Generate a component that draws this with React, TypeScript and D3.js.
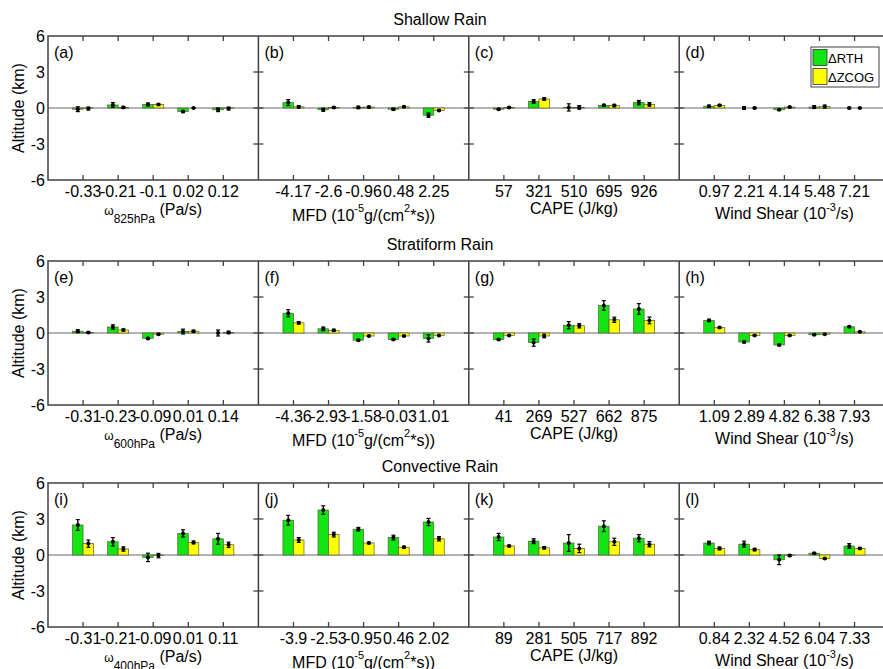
import React from 'react';
import * as d3 from 'd3';

// rows: shallow, stratiform, convective ; columns: omega, MFD, CAPE, wind shear
const rowTitles = ['Shallow Rain', 'Stratiform Rain', 'Convective Rain'];
const omegaLevels = ['825', '600', '400'];
const panelLetters = ['a', 'b', 'c', 'd', 'e', 'f', 'g', 'h', 'i', 'j', 'k', 'l'];
const yTicks = [-6, -3, 0, 3, 6];

const categories = [
  ['-0.33', '-0.21', '-0.1', '0.02', '0.12'],
  ['-4.17', '-2.6', '-0.96', '0.48', '2.25'],
  ['57', '321', '510', '695', '926'],
  ['0.97', '2.21', '4.14', '5.48', '7.21'],
  ['-0.31', '-0.23', '-0.09', '0.01', '0.14'],
  ['-4.36', '-2.93', '-1.58', '-0.03', '1.01'],
  ['41', '269', '527', '662', '875'],
  ['1.09', '2.89', '4.82', '6.38', '7.93'],
  ['-0.31', '-0.21', '-0.09', '0.01', '0.11'],
  ['-3.9', '-2.53', '-0.95', '0.46', '2.02'],
  ['89', '281', '505', '717', '892'],
  ['0.84', '2.32', '4.52', '6.04', '7.33'],
];

const rthValues = [
  [-0.1, 0.25, 0.3, -0.3, -0.15],
  [0.45, -0.15, 0.05, -0.1, -0.6],
  [-0.1, 0.55, 0.05, 0.22, 0.45],
  [0.15, 0.0, -0.15, 0.08, 0.0],
  [0.15, 0.5, -0.45, 0.12, 0.0],
  [1.65, 0.35, -0.6, -0.55, -0.45],
  [-0.55, -0.8, 0.65, 2.3, 2.0],
  [1.05, -0.75, -1.0, -0.15, 0.52],
  [2.5, 1.1, -0.2, 1.8, 1.35],
  [2.9, 3.75, 2.15, 1.45, 2.75],
  [1.5, 1.15, 1.0, 2.4, 1.4],
  [1.0, 0.9, -0.4, 0.15, 0.75],
];

const rthErrors = [
  [0.2, 0.2, 0.12, 0.08, 0.15],
  [0.25, 0.12, 0.1, 0.08, 0.18],
  [0.05, 0.15, 0.3, 0.08, 0.18],
  [0.08, 0.12, 0.05, 0.12, 0.06],
  [0.12, 0.18, 0.08, 0.2, 0.25],
  [0.3, 0.15, 0.06, 0.06, 0.3],
  [0.05, 0.3, 0.3, 0.4, 0.45],
  [0.1, 0.06, 0.06, 0.04, 0.06],
  [0.45, 0.35, 0.35, 0.3, 0.45],
  [0.4, 0.35, 0.15, 0.2, 0.3],
  [0.3, 0.2, 0.7, 0.45, 0.3],
  [0.15, 0.25, 0.4, 0.05, 0.2],
];

const zcogValues = [
  [-0.05, 0.05, 0.3, 0.0, -0.05],
  [0.1, 0.05, 0.08, 0.1, -0.2],
  [0.05, 0.75, 0.05, 0.2, 0.3],
  [0.22, 0.0, 0.08, 0.12, 0.0],
  [0.05, 0.25, -0.1, 0.15, 0.05],
  [0.85, 0.22, -0.25, -0.25, -0.2],
  [-0.2, -0.25, 0.6, 1.1, 1.05],
  [0.45, -0.2, -0.2, -0.1, 0.1],
  [0.95, 0.5, -0.05, 1.05, 0.85],
  [1.25, 1.7, 1.0, 0.65, 1.35],
  [0.75, 0.6, 0.55, 1.1, 0.9],
  [0.55, 0.45, -0.05, -0.3, 0.55],
];

const zcogErrors = [
  [0.12, 0.08, 0.05, 0.03, 0.12],
  [0.1, 0.06, 0.06, 0.05, 0.06],
  [0.04, 0.1, 0.15, 0.1, 0.15],
  [0.06, 0.06, 0.04, 0.12, 0.04],
  [0.06, 0.08, 0.04, 0.08, 0.1],
  [0.1, 0.08, 0.05, 0.05, 0.05],
  [0.05, 0.15, 0.18, 0.22, 0.28],
  [0.06, 0.05, 0.05, 0.04, 0.03],
  [0.3, 0.18, 0.18, 0.12, 0.22],
  [0.2, 0.2, 0.06, 0.08, 0.18],
  [0.06, 0.1, 0.35, 0.3, 0.22],
  [0.12, 0.1, 0.08, 0.05, 0.08],
];

const W = 883;
const H = 669;
const left = 48;
const panelW = 210.4;
const panelH = 144;
const rowTops = [36, 261, 483];
const green = '#12e612';
const yellow = '#ffff00';
const frame = '#404040';
const font = '"Liberation Sans", Arial, sans-serif';
const fs = 16;

function AxisTitle({ col, row, cx, y }: { col: number; row: number; cx: number; y: number }) {
  if (col === 0) {
    return (
      <text x={cx} y={y + 35} textAnchor="middle" fontSize={fs}>
        <tspan fontSize={12}>ω</tspan>
        <tspan fontSize={12} dy={8}>{omegaLevels[row]}hPa</tspan>
        <tspan dy={-8}> (Pa/s)</tspan>
      </text>
    );
  }
  if (col === 1) {
    return (
      <text x={cx} y={y + 41} textAnchor="middle" fontSize={fs}>
        MFD (10<tspan fontSize={11} dy={-9}>-5</tspan>
        <tspan dy={9}>g/(cm</tspan>
        <tspan fontSize={11} dy={-9}>2</tspan>
        <tspan dy={9}>*s))</tspan>
      </text>
    );
  }
  if (col === 2) {
    return (
      <text x={cx} y={y + 34} textAnchor="middle" fontSize={fs}>
        CAPE (J/kg)
      </text>
    );
  }
  return (
    <text x={cx} y={y + 39} textAnchor="middle" fontSize={fs}>
      Wind Shear (10<tspan fontSize={11} dy={-8}>-3</tspan>
      <tspan dy={8}>/s)</tspan>
    </text>
  );
}

function Panel({ idx }: { idx: number }) {
  const row = Math.floor(idx / 4);
  const col = idx % 4;
  const x0 = left + col * panelW;
  const top = rowTops[row];
  const x = d3.scaleLinear().domain([0, 6]).range([x0, x0 + panelW]);
  const y = d3.scaleLinear().domain([-6, 6]).range([top + panelH, top]);
  const bottom = y(-6);
  const half = 0.3;

  const series = [
    { vals: rthValues[idx], errs: rthErrors[idx], color: green, off: -half },
    { vals: zcogValues[idx], errs: zcogErrors[idx], color: yellow, off: 0 },
  ];

  return (
    <g>
      {/* zero line */}
      <line x1={x0} x2={x0 + panelW} y1={y(0)} y2={y(0)} stroke="#9a9a9a" strokeWidth={1.5} />
      {series.map((s, si) =>
        s.vals.map((v, i) => {
          const bx = x(i + 1 + s.off);
          const bw = x(half) - x(0);
          const cx = bx + bw / 2;
          return (
            <g key={`${si}-${i}`}>
              <rect
                x={bx}
                y={Math.min(y(v), y(0))}
                width={bw}
                height={Math.abs(y(v) - y(0))}
                fill={s.color}
                stroke="#5a5a3a"
                strokeWidth={0.7}
              />
              <line x1={cx} x2={cx} y1={y(v - s.errs[i])} y2={y(v + s.errs[i])} stroke="#000" strokeWidth={1.3} />
              <line x1={cx - 2} x2={cx + 2} y1={y(v - s.errs[i])} y2={y(v - s.errs[i])} stroke="#000" strokeWidth={1.2} />
              <line x1={cx - 2} x2={cx + 2} y1={y(v + s.errs[i])} y2={y(v + s.errs[i])} stroke="#000" strokeWidth={1.2} />
              <circle cx={cx} cy={y(v)} r={2} fill="#000" />
            </g>
          );
        })
      )}
      {/* category ticks top and bottom */}
      {categories[idx].map((c, i) => (
        <g key={c + i}>
          <line x1={x(i + 1)} x2={x(i + 1)} y1={top} y2={top + 5} stroke={frame} strokeWidth={1.3} />
          <line x1={x(i + 1)} x2={x(i + 1)} y1={bottom} y2={bottom - 5} stroke={frame} strokeWidth={1.3} />
          <text x={x(i + 1)} y={bottom + 17} textAnchor="middle" fontSize={fs}>
            {c}
          </text>
        </g>
      ))}
      {/* y ticks on panel boundary */}
      {col > 0 &&
        yTicks.slice(1, 4).map((t) => (
          <line key={t} x1={x0 - 5} x2={x0 + 5} y1={y(t)} y2={y(t)} stroke={frame} strokeWidth={1.3} />
        ))}
      {col === 0 &&
        yTicks.map((t) => (
          <text key={t} x={x0 - 3} y={y(t) + 6} textAnchor="end" fontSize={fs}>
            {t}
          </text>
        ))}
      <text x={x0 + 6} y={top + 22} fontSize={fs}>
        ({panelLetters[idx]})
      </text>
      <AxisTitle col={col} row={row} cx={x0 + panelW / 2} y={bottom} />
      {idx === 3 && (
        <g>
          <rect x={811} y={47} width={68} height={40} fill="#fff" stroke={frame} strokeWidth={1} />
          <rect x={813} y={49.5} width={14} height={16} fill={green} stroke="#333" strokeWidth={0.8} />
          <rect x={813} y={68.5} width={14} height={16} fill={yellow} stroke="#333" strokeWidth={0.8} />
          <text x={828} y={63} fontSize={13}>ΔRTH</text>
          <text x={828} y={82} fontSize={13}>ΔZCOG</text>
        </g>
      )}
    </g>
  );
}

export default function App() {
  const right = left + 4 * panelW;
  return (
    <svg
      width={W}
      height={H}
      style={{ position: 'absolute', left: 0, top: 0, background: '#fff' }}
      fontFamily={font}
    >
      <rect width={W} height={H} fill="#fff" />
      {rowTitles.map((t, r) => {
        const top = rowTops[r];
        return (
          <g key={t}>
            <text x={440} y={top - 11} textAnchor="middle" fontSize={fs}>
              {t}
            </text>
            <text
              transform={`translate(24,${top + panelH / 2}) rotate(-90)`}
              textAnchor="middle"
              fontSize={fs}
            >
              Altitude (km)
            </text>
          </g>
        );
      })}
      {panelLetters.map((_, i) => (
        <Panel key={i} idx={i} />
      ))}
      {rowTops.map((top, r) => (
        <g key={r}>
          <rect x={left} y={top} width={right - left} height={panelH} fill="none" stroke={frame} strokeWidth={1.5} />
          {[1, 2, 3].map((c) => (
            <line
              key={c}
              x1={left + c * panelW}
              x2={left + c * panelW}
              y1={top}
              y2={top + panelH}
              stroke={frame}
              strokeWidth={1.5}
            />
          ))}
        </g>
      ))}
    </svg>
  );
}
